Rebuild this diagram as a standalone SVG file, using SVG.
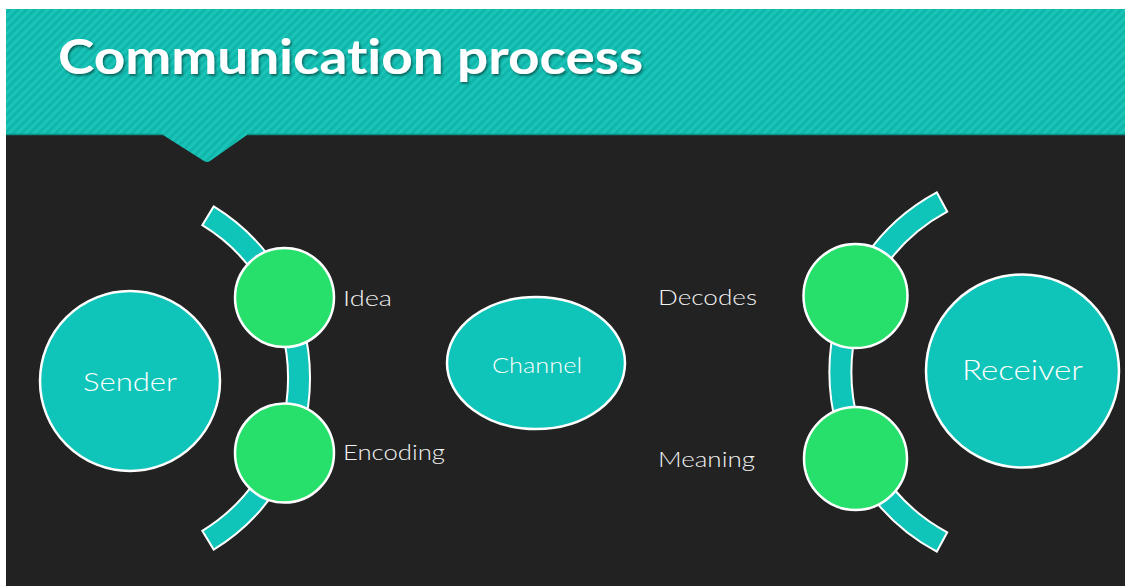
<svg xmlns="http://www.w3.org/2000/svg" width="1125" height="586" viewBox="0 0 1125 586">
  <defs>
    <pattern id="stripes" width="6" height="6" patternUnits="userSpaceOnUse" patternTransform="rotate(45)">
      <rect width="6" height="6" fill="#1ac4b8"/>
      <rect width="3" height="6" fill="#10b6aa"/>
    </pattern>
    <filter id="shadow" x="-5%" y="-20%" width="110%" height="150%">
      <feDropShadow dx="1.5" dy="2" stdDeviation="1.2" flood-color="#000" flood-opacity="0.45"/>
    </filter>
  </defs>
  <style>
    text { font-variant-ligatures: none; }
    .hub { fill: #0fc4b8; stroke: #ffffff; stroke-width: 2.5; }
    .step { fill: #27e06c; stroke: #ffffff; stroke-width: 2.5; }
    .band { fill: #0fc4b8; stroke: #ffffff; stroke-width: 2; }
    .inner { font-family: "Lato", "Liberation Sans", sans-serif; font-weight: 300; fill: #ffffff; }
    .label { font-family: "Lato", "Liberation Sans", sans-serif; font-weight: 300; fill: #f2f2f2; font-size: 21px; }
    .title { font-family: "Lato", "Liberation Sans", sans-serif; font-weight: bold; fill: #ffffff; font-size: 48px; }
  </style>

  <!-- page -->
  <rect width="1125" height="586" fill="#ffffff"/>
  <rect x="6" y="9" width="1119" height="577" fill="#222222"/>

  <!-- header band with notch -->
  <path d="M6,9 H1125 V135 H247 L210,161 Q207,163 204,161 L163,135 H6 Z" fill="url(#stripes)"/>
  <line x1="6" y1="134.5" x2="163" y2="134.5" stroke="#0d8f86" stroke-width="1.5"/>
  <line x1="247" y1="134.5" x2="1125" y2="134.5" stroke="#0d8f86" stroke-width="1.5"/>
  <text class="title" x="58" y="74" textLength="585" lengthAdjust="spacingAndGlyphs" filter="url(#shadow)">Communication process</text>

  <!-- connectors: curved bands linking the steps -->
  <g id="connectors">
    <path class="band" d="M213.7,206.4 A201,201 0 0 1 213.7,549.6 L202.3,530.8 A179,179 0 0 0 202.3,225.2 Z"/>
    <path class="band" d="M936.8,192.3 A204,204 0 0 0 936.8,551.7 L947.2,532.3 A182,182 0 0 1 947.2,211.7 Z"/>
  </g>

  <g id="sender">
    <circle class="hub" cx="130" cy="381" r="90"/>
    <text class="inner" x="130" y="391" font-size="26" text-anchor="middle" textLength="94" lengthAdjust="spacingAndGlyphs">Sender</text>
  </g>

  <g id="idea">
    <circle class="step" cx="284.5" cy="297.5" r="49.5"/>
    <text class="label" x="343" y="306" textLength="49" lengthAdjust="spacingAndGlyphs">Idea</text>
  </g>

  <g id="encoding">
    <circle class="step" cx="284.5" cy="453" r="49.5"/>
    <text class="label" x="343" y="460" textLength="102" lengthAdjust="spacingAndGlyphs">Encoding</text>
  </g>

  <g id="channel">
    <ellipse class="hub" cx="536" cy="363" rx="89" ry="66"/>
    <text class="inner" x="537" y="373" font-size="21" text-anchor="middle" textLength="90" lengthAdjust="spacingAndGlyphs">Channel</text>
  </g>

  <g id="decodes">
    <circle class="step" cx="855.5" cy="296" r="52"/>
    <text class="label" x="658" y="305" textLength="99" lengthAdjust="spacingAndGlyphs">Decodes</text>
  </g>

  <g id="meaning">
    <circle class="step" cx="855.5" cy="458.5" r="51.5"/>
    <text class="label" x="658" y="467" textLength="97" lengthAdjust="spacingAndGlyphs">Meaning</text>
  </g>

  <g id="receiver">
    <circle class="hub" cx="1022.5" cy="371" r="96.5"/>
    <text class="inner" x="1022.5" y="380" font-size="27" text-anchor="middle" textLength="121" lengthAdjust="spacingAndGlyphs">Receiver</text>
  </g>
</svg>
